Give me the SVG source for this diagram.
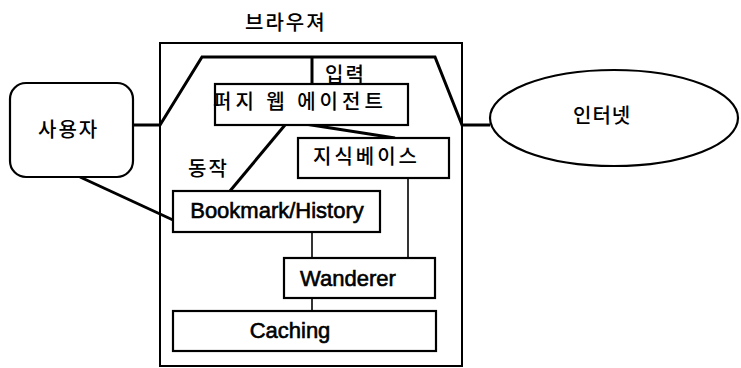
<svg xmlns="http://www.w3.org/2000/svg" width="741" height="368" viewBox="0 0 741 368">
<style>
.bx{fill:#fff;stroke:#000;stroke-width:2.2}
.ln{fill:none;stroke:#000;stroke-width:3}
.thin{fill:none;stroke:#000;stroke-width:1.6}
.ko{font-family:"Noto Sans CJK KR","Noto Sans",sans-serif;font-size:20px;font-weight:500;fill:#000;dominant-baseline:central}
.en{font-family:"Liberation Sans",Arial,sans-serif;font-size:22px;fill:#000;stroke:#000;stroke-width:0.6;text-anchor:middle}
</style>
<rect width="741" height="368" fill="#fff"/>
<g id="browser">
<rect x="160" y="43" width="302" height="323" fill="none" stroke="#000" stroke-width="2"/>
<text class="ko" x="245" y="21" letter-spacing="2">브라우져</text>
</g>
<g id="connectors">
<polyline class="ln" points="133,125 160,125 202,57 435,57 462,125 490,125"/>
<line class="ln" x1="312" y1="57" x2="312" y2="84"/>
<line class="ln" x1="80" y1="177" x2="173" y2="220"/>
<line class="ln" x1="285" y1="125" x2="230" y2="191"/>
<line class="ln" x1="305" y1="124" x2="395" y2="138"/>
<line class="thin" x1="312" y1="232" x2="312" y2="258"/>
<line class="thin" x1="408" y1="178" x2="408" y2="258"/>
<line class="thin" x1="312" y1="298" x2="312" y2="311"/>
<text class="ko" x="325" y="73" letter-spacing="2">입력</text>
<text class="ko" x="188" y="167" letter-spacing="2">동작</text>
</g>
<g id="user">
<rect class="bx" x="10" y="83" width="123" height="94" rx="16"/>
<text class="ko" x="38" y="128" letter-spacing="2">사용자</text>
</g>
<g id="internet">
<ellipse class="bx" cx="614" cy="118" rx="124" ry="48"/>
<text class="ko" x="573" y="114" letter-spacing="1">인터넷</text>
</g>
<g id="agent">
<rect class="bx" x="215" y="84" width="193" height="41"/>
<text class="ko" x="213" y="100" font-size="22" letter-spacing="4">퍼지 웹 에이전트</text>
</g>
<g id="kb">
<rect class="bx" x="298" y="138" width="151" height="40"/>
<text class="ko" x="313" y="155" letter-spacing="3">지식베이스</text>
</g>
<g id="bookmark">
<rect class="bx" x="173" y="191" width="207" height="41"/>
<text class="en" x="277" y="218">Bookmark/History</text>
</g>
<g id="wanderer">
<rect class="bx" x="284" y="258" width="151" height="40"/>
<text class="en" x="348" y="286">Wanderer</text>
</g>
<g id="caching">
<rect class="bx" x="173" y="311" width="263" height="40"/>
<text class="en" x="290" y="338">Caching</text>
</g>
</svg>
